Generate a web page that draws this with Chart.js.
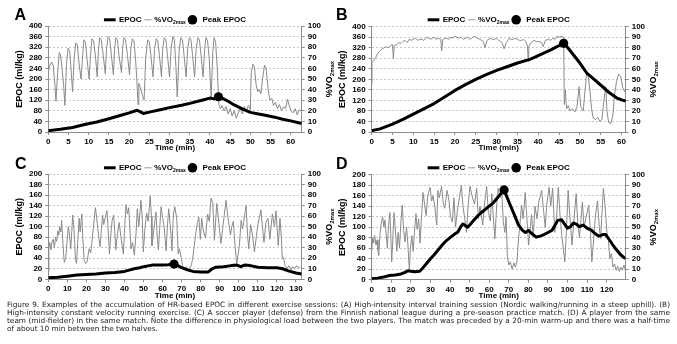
<!DOCTYPE html>
<html>
<head>
<meta charset="utf-8">
<script src="https://cdn.jsdelivr.net/npm/chart.js@4.4.1/dist/chart.umd.min.js"></script>
<style>
  html, body { margin: 0; padding: 0; background: #fff; }
  #fig { position: relative; width: 677px; height: 344px; overflow: hidden; }
  #fig canvas { position: absolute; }
  .tag { position: absolute; font: bold 16px/16px "Liberation Sans", Arial, sans-serif; color: #000; }
  #caption { position: absolute; left: 7px; top: 300.5px; width: 663px; color: #1a1a1a;
             font-family: "DejaVu Sans", Verdana, sans-serif; font-size: 7px; }
  #caption div { height: 8.33px; line-height: 8.33px; text-align: justify; text-align-last: justify; white-space: nowrap; }
  #caption div.last { text-align-last: left; }
</style>
</head>
<body>
<div id="fig">
  <canvas id="chartA" width="340" height="156" style="left:0;top:0"></canvas>
  <canvas id="chartB" width="343" height="156" style="left:334px;top:0"></canvas>
  <canvas id="chartC" width="340" height="156" style="left:0;top:148px"></canvas>
  <canvas id="chartD" width="343" height="156" style="left:334px;top:148px"></canvas>
  <div class="tag" style="left:14.5px;top:7.2px">A</div>
  <div class="tag" style="left:336px;top:7.2px">B</div>
  <div class="tag" style="left:15px;top:155.5px">C</div>
  <div class="tag" style="left:336px;top:155.5px">D</div>
  <div id="caption">
    <div>Figure 9. Examples of the accumulation of HR-based EPOC in different exercise sessions: (A) High-intensity interval training session (Nordic walking/running in a steep uphill). (B)</div>
    <div>High-intensity constant velocity running exercise. (C) A soccer player (defense) from the Finnish national league during a pre-season practice match. (D) A player from the same</div>
    <div>team (mid-fielder) in the same match. Note the difference in physiological load between the two players. The match was preceded by a 20-min warm-up and there was a half-time</div>
    <div class="last">of about 10 min between the two halves.</div>
  </div>
</div>
<script>
// ---- readings: [time (min), value] ----

// A: interval session
const epocA = [[0,5],[3,10],[6,17],[9,28],[12,38],[15,50],[18,63],[20,72],[22,82],[23.5,70],[25,75],[28,85],[30,92],[33,101],[35,108],[38,120],[40,128],[41,125],[42.1,133],[43,128],[44.5,116],[46,102],[48,87],[50,74],[52,68],[54,62],[56,56],[58,48],[60,42],[62.7,32]];
const vo2A = [[0,57],[0.3,62],[0.8,66],[1.2,63],[1.6,46],[1.9,29],[2.3,55],[2.7,75],[3.0,73],[3.4,60],[3.8,44],[4.1,25],[4.5,64],[4.9,79],[5.3,76],[5.7,55],[6.0,38],[6.4,70],[6.8,84],[7.2,82],[7.6,65],[8.1,50],[8.5,72],[8.8,87],[9.2,85],[9.6,68],[10.1,50],[10.5,75],[10.8,88],[11.2,86],[11.7,70],[12.1,52],[12.4,76],[12.7,89],[13.1,87],[13.6,72],[14.1,55],[14.4,78],[14.8,90],[15.2,88],[15.6,73],[16.1,54],[16.4,78],[16.7,89],[17.1,87],[17.5,72],[18.1,56],[18.4,79],[18.7,89],[19.1,87],[19.6,72],[20.1,54],[20.4,78],[20.8,88],[21.2,86],[21.6,68],[21.9,50],[22.2,26],[22.4,46],[22.9,40],[23.4,33],[23.7,30],[24.1,70],[24.6,87],[25.0,85],[25.4,72],[25.9,52],[26.3,78],[26.7,88],[27.1,86],[27.5,72],[28.0,52],[28.3,78],[28.7,89],[29.1,87],[29.5,72],[30.0,52],[30.4,79],[30.8,90],[31.2,87],[31.6,60],[31.9,33],[32.4,78],[32.8,89],[33.2,87],[33.6,72],[34.1,52],[34.5,79],[34.9,89],[35.3,87],[35.7,72],[36.2,52],[36.6,79],[37.0,89],[37.4,87],[37.8,72],[38.3,52],[38.7,79],[39.0,89],[39.4,86],[39.8,70],[40.3,33],[40.7,75],[41.0,89],[41.4,85],[41.8,60],[42.2,26],[42.6,22],[43.0,25],[43.5,20],[44.0,24],[44.5,17],[45.0,22],[45.5,15],[46.0,20],[46.5,13],[47.0,18],[47.5,22],[48.0,17],[48.5,24],[49.0,20],[49.5,25],[50.0,21],[50.2,55],[50.6,64],[51.0,62],[51.4,45],[51.8,38],[52.2,40],[52.6,36],[53.0,50],[53.5,63],[53.9,60],[54.4,40],[54.8,30],[55.3,32],[55.7,25],[56.2,28],[56.7,22],[57.2,26],[57.7,20],[58.2,24],[58.7,22],[59.2,31],[59.6,25],[60.1,20],[60.6,18],[61.1,22],[61.6,16],[62.1,21],[62.6,20]];
const peakA = [42.1, 133];

// B: constant velocity run
const epocB = [[0,5],[2,12],[5,30],[7.5,48],[10,68],[12.5,88],[15,108],[17.5,133],[20,158],[22.5,180],[25,200],[27.5,218],[30,234],[32.5,248],[35,262],[38,276],[40,290],[43,312],[46.1,337],[47,322],[48,302],[49,282],[50,262],[51.6,225],[53,206],[55.6,170],[57,150],[58.8,130],[60,122],[61,118]];
const vo2B = [[0,45],[0.05,66],[0.5,68],[1,71],[1.5,75],[2,77],[2.5,79],[3,80],[3.5,81],[4,80],[4.5,82],[5,83],[5.2,70],[5.4,82],[6,83],[6.5,85],[7,84],[7.5,86],[8,87],[8.5,85],[9,88],[9.5,87],[10,88],[10.5,89],[11,87],[11.5,88],[12,88],[12.5,87],[13,89],[13.5,90],[14,88],[14.5,89],[15,90],[15.5,88],[16,89],[16.6,88],[16.8,77],[17.1,88],[17.5,89],[18,89],[18.5,88],[19,90],[19.5,89],[20,91],[20.5,90],[21,89],[21.5,90],[22,88],[22.5,89],[23,90],[23.5,88],[24,89],[24.5,91],[25,90],[25.5,89],[26,88],[26.8,86],[27.2,80],[27.7,87],[28.5,89],[29,88],[29.5,88],[30,89],[30.5,87],[31,86],[31.4,84],[31.8,79],[32.3,85],[33,89],[33.5,88],[34,88],[34.5,89],[35,88],[35.5,87],[36,87],[36.5,88],[37,86],[37.4,82],[37.6,67],[37.8,82],[38.3,85],[39,87],[39.5,86],[40,86],[40.8,85],[41.2,81],[41.7,87],[42.5,88],[43,87],[43.5,89],[44,88],[44.5,91],[45,90],[45.5,91],[46.1,90],[46.25,26],[46.5,40],[46.8,22],[47.2,25],[47.6,20],[48.2,22],[48.8,19],[49.3,24],[49.8,43],[50.2,24],[50.8,20],[51.2,38],[51.6,55],[52,53],[52.4,40],[52.8,22],[53.2,13],[53.8,12],[54.3,14],[54.8,10],[55.3,12],[55.7,28],[56.2,43],[56.5,20],[56.9,9],[57.4,8],[57.9,15],[58.3,35],[58.8,48],[59.3,55],[59.8,53],[60.3,42],[60.8,38]];
const peakB = [46.1, 337];

// C: soccer, defender
const epocC = [[0,3],[5,4],[10,6],[15,8],[20,9],[25,10],[30,12],[35,13],[40,15],[42,17],[45,20],[48,22],[50,24],[53,26],[55,27],[60,27],[63,27.5],[66,29],[68,26],[70,22],[73,18],[76,15],[80,14],[84,14],[86,20],[88,23],[92,24],[96,26],[99,27],[101,24],[103,27],[106,26],[110,23],[115,22],[120,22],[123,20],[126,16],[130,12],[133,10]];
const vo2C = [[0,8],[0.3,30],[0.8,35],[1.4,28],[2,36],[2.6,38],[3.2,30],[3.8,40],[4.4,36],[5,46],[5.5,42],[6,50],[6.6,45],[7,56],[7.5,40],[8,25],[8.4,16],[9.2,21],[9.8,35],[10.5,50],[11,44],[11.8,29],[12.4,48],[12.8,61],[13.3,52],[13.8,38],[14.2,20],[14.8,15],[15.4,34],[16.2,58],[16.7,45],[17.6,62],[18.1,40],[18.8,18],[19.6,15],[20.4,17],[21.4,29],[22.2,25],[22.8,34],[23.5,46],[24.7,68],[25.3,60],[26,48],[26.6,38],[27.2,31],[27.9,48],[28.5,61],[29.1,52],[29.8,58],[30.8,65],[31.3,50],[32.1,24],[32.9,44],[33.5,56],[34.3,61],[34.9,45],[35.4,28],[36.1,40],[37.2,54],[38,42],[39.4,24],[40.1,50],[40.8,71],[41.5,62],[42.2,68],[43.4,29],[44.2,35],[45.2,23],[46.1,45],[46.7,67],[47.5,50],[48.6,75],[49.3,58],[49.9,26],[50.7,48],[51.6,63],[52.4,55],[53.5,79],[54.1,60],[54.4,32],[55.2,44],[56.5,64],[57.2,40],[57.8,28],[58.6,52],[59.2,69],[60.1,58],[60.9,48],[61.8,27],[62.5,50],[63.2,67],[64.3,45],[64.9,27],[65.3,48],[65.7,62],[66.4,69],[67.4,58],[67.8,40],[68.2,24],[68.8,29],[69.8,20],[70.5,13],[71.5,10],[72.5,12],[73.3,9],[74.2,11],[75,13],[75.8,20],[76.6,32],[77.5,45],[78.3,54],[79,59],[79.8,38],[80.5,58],[81.3,47],[82.5,39],[83.6,62],[84.5,55],[85.4,77],[86.3,73],[87.2,37],[88.4,72],[89.5,54],[90.6,34],[91.5,48],[93.3,75],[94.2,60],[95.6,42],[96.3,50],[97.1,55],[98.1,30],[98.9,15],[100.3,32],[101.2,56],[102,48],[103.8,70],[104.6,42],[105.2,29],[106.2,52],[107.3,40],[108.2,26],[109.9,51],[111.6,66],[112.4,50],[113.2,35],[114.2,54],[115.3,58],[116.3,38],[117.6,62],[118.7,50],[119.5,65],[120.7,32],[121.6,58],[122.3,40],[122.8,20],[123.4,21],[124.3,13],[125.3,10],[126.3,13],[127.3,9],[128.3,12],[129.3,10],[130.3,13],[131.3,11],[132.3,12]];
const peakC = [66, 29];

// D: soccer, mid-fielder
const epocD = [[0,2],[3,3],[6,5],[9,8],[12,9],[15,11],[17,14],[18.5,17],[20,16],[22,15],[24.5,16],[26,22],[28,31],[30,40],[32,48],[34,57],[36,66],[38,74],[40,80],[42,86],[44,91],[45.5,101],[46.5,106],[47.5,104],[49,100],[50.5,106],[52,113],[54,121],[56,128],[58,134],[60,140],[62,146],[64,155],[66,164],[67.6,171],[69,158],[71,140],[73,122],[75,104],[77,94],[78.5,90],[80,94],[82,87],[84,81],[86,83],[88,86],[90,90],[92,94],[93.5,103],[95,113],[97,114],[98.5,106],[100,98],[101.5,101],[103,108],[104.5,106],[106,101],[108,104],[110,98],[112,95],[114,88],[116,83],[118,86],[119.5,86],[121,78],[123,67],[125,57],[127,48],[129.5,40]];
const vo2D = [[0,27],[0.5,40],[1,35],[1.5,42],[2.2,33],[2.8,38],[3.2,28],[3.6,23],[4.3,45],[5,55],[5.6,60],[6.2,50],[6.8,57],[7.4,43],[8,30],[8.6,52],[9.3,64],[9.8,40],[10.2,17],[10.7,35],[11.4,64],[12,50],[12.8,27],[13.5,45],[14.2,30],[14.9,55],[15.6,71],[16.3,47],[17,36],[17.8,50],[18.4,36],[19.2,10],[19.8,30],[20.5,42],[21.2,27],[21.8,45],[22.6,63],[23.2,48],[24,58],[24.7,35],[25.3,55],[26.2,83],[27,72],[27.8,61],[28.6,80],[29.8,88],[30.6,75],[31.3,80],[32.2,70],[33.2,52],[33.8,85],[34.5,78],[35.7,89],[36.5,73],[37.3,68],[38.5,85],[39.5,75],[40.2,60],[41.2,55],[42,78],[42.8,50],[43.7,65],[45.8,90],[46.5,72],[47.5,58],[48.4,45],[49.2,70],[50.2,89],[51.2,80],[52.5,72],[53.6,87],[54.5,58],[55.3,70],[56.7,52],[57.6,72],[58.7,89],[59.6,64],[60.6,56],[61.3,82],[62.1,60],[62.9,39],[63.8,70],[64.6,87],[65.4,78],[66.4,84],[67.2,55],[68,45],[68.6,60],[69.3,22],[70,14],[70.8,17],[71.7,10],[72.6,16],[73.4,12],[74.2,18],[75,39],[75.8,55],[76.5,71],[77.3,58],[78.4,83],[79.2,60],[80.1,33],[80.8,45],[81.6,62],[82.5,41],[83.4,70],[84.4,58],[85.4,75],[86.8,85],[87.8,65],[88.6,50],[89.4,72],[90.6,88],[91.4,70],[92.4,87],[93.5,45],[94.4,60],[95.3,88],[96.2,60],[97.2,40],[98.6,17],[99.4,45],[100.3,85],[101.2,60],[102.3,33],[103.2,55],[104.4,82],[105.3,52],[106.1,40],[107.6,74],[108.4,50],[109.5,60],[110.8,71],[111.7,45],[112.4,17],[113.2,35],[114.2,60],[115.3,75],[116.2,50],[116.9,39],[117.5,60],[118.3,87],[119.2,70],[120.1,45],[120.8,39],[121.6,20],[122.4,25],[123.2,12],[124,15],[124.8,9],[125.6,13],[126.4,8],[127.2,12],[128,9],[128.8,14],[129.5,10]];
const peakD = [67.6, 171];

// ---- styling ----
const FONT = '"Liberation Sans", Arial, Helvetica, sans-serif';
Chart.defaults.font.family = FONT;
Chart.defaults.font.size = 8;
Chart.defaults.font.weight = 'bold';
Chart.defaults.color = '#000';

const AXIS = '#8c8c8c';
const GRID = '#c6c6c6';

const pts = arr => arr.map(p => ({ x: p[0], y: p[1] }));

// legend above the plot and the rotated right-axis title (both need a subscript)
const decor = {
  id: 'decor',
  afterDraw(chart) {
    const { ctx, chartArea: a } = chart;
    const big = 'bold 8px ' + FONT, small = 'bold 5px ' + FONT;
    ctx.save();
    ctx.fillStyle = '#000';
    ctx.textBaseline = 'middle';

    ctx.font = big;
    const wE = ctx.measureText('EPOC').width;
    const wV = ctx.measureText('%VO').width;
    const wP = ctx.measureText('Peak EPOC').width;
    ctx.font = small;
    const wS = ctx.measureText('2max').width;
    const total = 11.7 + 3.3 + wE + 2.7 + 7.3 + 2.7 + wV + wS + 1.7 + 10 + 5 + wP;
    let x = (a.left + a.right) / 2 - total / 2;
    const y = 19.8;

    ctx.fillRect(x, y - 1.5, 11.7, 3);
    x += 15;
    ctx.font = big;
    ctx.fillText('EPOC', x, y);
    x += wE + 2.7;
    ctx.fillStyle = '#9a9a9a';
    ctx.fillRect(x, y - 0.5, 7.3, 1);
    x += 10;
    ctx.fillStyle = '#000';
    ctx.fillText('%VO', x, y);
    x += wV;
    ctx.font = small;
    ctx.fillText('2max', x, y + 2.5);
    x += wS + 1.7;
    ctx.beginPath();
    ctx.arc(x + 5, y, 4.8, 0, Math.PI * 2);
    ctx.fill();
    x += 15;
    ctx.font = big;
    ctx.fillText('Peak EPOC', x, y);

    // %VO2max title, reading bottom to top
    ctx.translate(a.right + 28, (a.top + a.bottom) / 2);
    ctx.rotate(-Math.PI / 2);
    ctx.font = 'bold 9px ' + FONT;
    const w1 = ctx.measureText('%VO').width;
    ctx.font = 'bold 6px ' + FONT;
    const w2 = ctx.measureText('2max').width;
    const tx = -(w1 + w2) / 2;
    ctx.font = 'bold 9px ' + FONT;
    ctx.fillText('%VO', tx, 0);
    ctx.font = 'bold 6px ' + FONT;
    ctx.fillText('2max', tx + w1, 3);
    ctx.restore();
  }
};

function panel(id, cfg) {
  const cv = document.getElementById(id);
  const W = cv.width, H = cv.height;
  const a = cfg.area;
  new Chart(cv, {
    type: 'line',
    data: {
      datasets: [
        { label: 'Peak EPOC', data: pts([cfg.peak]), yAxisID: 'y', showLine: false,
          pointRadius: 4.6, pointBackgroundColor: '#000', pointBorderWidth: 0, order: 0 },
        { label: 'EPOC', data: pts(cfg.epoc), yAxisID: 'y', borderColor: '#000', borderWidth: 3,
          pointRadius: 0, borderJoinStyle: 'round', order: 1 },
        { label: '%VO2max', data: pts(cfg.vo2), yAxisID: 'y2', borderColor: '#8a8a8a', borderWidth: 1,
          pointRadius: 0, order: 2 }
      ]
    },
    options: {
      responsive: false,
      animation: false,
      events: [],
      layout: { padding: { top: a.top, left: 0, right: 0, bottom: 0 } },
      plugins: { legend: { display: false }, tooltip: { enabled: false } },
      scales: {
        x: {
          type: 'linear', min: 0, max: cfg.xMax,
          afterFit: s => { s.height = H - a.bottom; },
          ticks: { stepSize: cfg.xStep, includeBounds: false, autoSkip: false, maxRotation: 0, padding: 2 },
          grid: { drawOnChartArea: false, tickLength: 3, color: AXIS },
          border: { color: AXIS },
          title: { display: true, text: 'Time (min)', font: { size: 8, weight: 'bold' }, padding: { top: 0, bottom: 3.7 } }
        },
        y: {
          position: 'left', min: 0, max: cfg.yMax,
          afterFit: s => { s.width = a.left; },
          ticks: { stepSize: cfg.yStep, autoSkip: false, padding: 3 },
          grid: { color: GRID, tickColor: AXIS, tickLength: 3, tickBorderDash: [] },
          border: { color: AXIS, dash: [2, 2] },
          title: { display: true, text: 'EPOC (ml/kg)', font: { size: 9, weight: 'bold' }, padding: { top: cfg.titlePad, bottom: 0 } }
        },
        y2: {
          position: 'right', min: 0, max: 100,
          afterFit: s => { s.width = W - a.right; },
          ticks: { stepSize: 10, autoSkip: false, padding: 3 },
          grid: { drawOnChartArea: false, tickLength: 3, color: AXIS },
          border: { color: AXIS }
        }
      }
    },
    plugins: [decor]
  });
}

panel('chartA', { epoc: epocA, vo2: vo2A, peak: peakA, xMax: 62.7, xStep: 5, yMax: 400, yStep: 40,
  titlePad: 14.6, area: { left: 48.3, right: 301.7, top: 26, bottom: 132 } });
panel('chartB', { epoc: epocB, vo2: vo2B, peak: peakB, xMax: 61, xStep: 5, yMax: 400, yStep: 40,
  titlePad: 3.6, area: { left: 37.7, right: 291.7, top: 26.7, bottom: 132 } });
panel('chartC', { epoc: epocC, vo2: vo2C, peak: peakC, xMax: 133, xStep: 10, yMax: 200, yStep: 20,
  titlePad: 14.6, area: { left: 48.3, right: 301.7, top: 26, bottom: 131.3 } });
panel('chartD', { epoc: epocD, vo2: vo2D, peak: peakD, xMax: 129.7, xStep: 10, yMax: 200, yStep: 20,
  titlePad: 3.6, area: { left: 37.7, right: 291.7, top: 26.7, bottom: 131.7 } });

// caption: size the type so the longest line just fills the column
const cap = document.getElementById('caption');
let widest = 0;
[...cap.children].forEach(d => {
  const s = document.createElement('span');
  s.style.whiteSpace = 'nowrap';
  s.textContent = d.textContent;
  cap.appendChild(s);
  widest = Math.max(widest, s.getBoundingClientRect().width);
  s.remove();
});
cap.style.fontSize = (7 * 658 / widest).toFixed(2) + 'px';
</script>
</body>
</html>
